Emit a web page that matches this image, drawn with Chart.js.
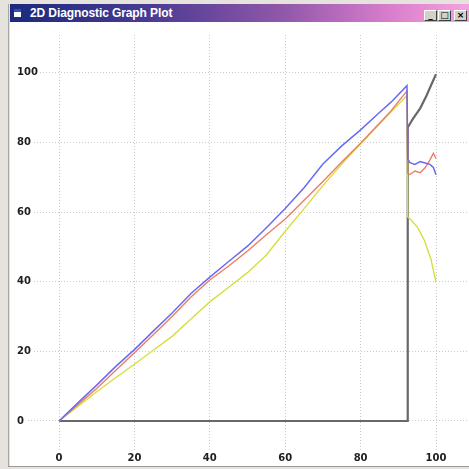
<!DOCTYPE html>
<html>
<head>
<meta charset="utf-8">
<script src="https://cdn.jsdelivr.net/npm/chart.js@4"></script>
<style>
  html, body { margin: 0; padding: 0; }
  body { width: 469px; height: 469px; background: #e6e3de; position: relative; overflow: hidden; }
  #frameLeft { position: absolute; left: 8px; top: 4px; width: 1px; height: 463px; background: #a8a6a2; }
  #titlebar {
    position: absolute; left: 10px; top: 4px; width: 459px; height: 18px;
    background: linear-gradient(to right, #1b2a7c 0%, #4a3a92 30%, #9258aa 60%, #d77ccc 82%, #f7a2df 100%);
  }
  #icon { position: absolute; left: 3px; top: 4px; width: 9px; height: 10px; background: #fff; border: 1px solid #203070; box-sizing: border-box; }
  #icon::before { content: ""; position: absolute; left: 0; top: 0; width: 7px; height: 3px; background: #3050c0; }
  #title {
    position: absolute; left: 20px; top: 2px; color: #fff;
    font: bold 12px "Liberation Sans", sans-serif; white-space: nowrap; letter-spacing: -0.1px;
  }
  .btn {
    position: absolute; top: 6px; width: 13px; height: 11px; background: #d4d0c8;
    border: 1px solid; border-color: #fff #404040 #404040 #fff; box-sizing: border-box;
    font: bold 9px "DejaVu Sans", sans-serif; color: #000; text-align: center; line-height: 9px;
  }
  #plot { position: absolute; left: 10px; top: 22px; width: 459px; height: 444px; background: #fff; }
  #frameBottom { position: absolute; left: 8px; top: 466px; width: 461px; height: 1px; background: #9a9894; }
</style>
</head>
<body>
<div id="frameLeft"></div>
<div id="titlebar">
  <div id="icon"></div>
  <div id="title">2D Diagnostic Graph Plot</div>
  <div class="btn" style="left:414px">_</div>
  <div class="btn" style="left:428px">□</div>
  <div class="btn" style="left:444px">×</div>
</div>
<div id="plot"><canvas id="c" width="459" height="444"></canvas></div>
<div id="frameBottom"></div>
<script>
// Axis tick values
const xTickValues = [0, 20, 40, 60, 80, 100];
const yTickValues = [0, 20, 40, 60, 80, 100];

// Trace 1 (blue)
const blueX = [0, 5, 10, 15, 20, 25, 30, 35, 40, 45, 50, 55, 60, 65, 70, 75, 80, 85, 88, 92.3,
               92.5, 93.1, 94.4, 95.8, 97.1, 98.4, 99.3, 100];
const blueY = [0, 5.2, 10.3, 15.6, 20.5, 25.8, 31.0, 36.6, 41.3, 45.8, 50.2, 55.5, 61.0, 67.0, 73.8, 79.0, 83.6, 88.6, 91.5, 96.3,
               75.2, 74.2, 73.7, 74.5, 74.1, 73.7, 72.8, 70.7];

// Trace 2 (red)
const redX = [0, 5, 10, 15, 20, 25, 30, 35, 40, 45, 50, 55, 60, 65, 70, 75, 80, 85, 88, 92.3,
              92.5, 93.1, 94.4, 95.8, 97.1, 98.4, 99.3, 100];
const redY = [0, 4.7, 9.3, 14.5, 19.6, 24.8, 30.0, 35.6, 40.5, 44.5, 48.8, 53.5, 58.0, 63.4, 68.8, 74.4, 79.8, 85.5, 89.0, 94.8,
              71.2, 70.8, 71.8, 71.3, 72.7, 75.0, 76.9, 75.4];

// Trace 3 (yellow)
const yellowX = [0, 5, 10, 15, 20, 25, 30, 35, 40, 45, 50, 55, 60, 65, 70, 75, 80, 85, 88, 92.3,
                 92.5, 93.1, 95.1, 96.9, 98.7, 100];
const yellowY = [0, 4.2, 8.4, 12.4, 16.3, 20.3, 24.3, 29.3, 34.2, 38.4, 42.6, 47.7, 54.5, 61.0, 67.6, 73.8, 79.6, 85.3, 88.7, 93.5,
                 58.6, 58.1, 55.6, 51.9, 46.3, 39.8];

// Trace 4 (gray)
const grayX = [0, 92.5, 92.5, 93.2, 94.0, 95.8, 97.5, 98.8, 100];
const grayY = [0, 0, 84.3, 85.6, 87.0, 89.8, 93.5, 96.7, 99.6];

const toPoints = (xs, ys) => xs.map((x, i) => ({ x: x, y: ys[i] }));

const traces = [
  { label: 'Trace 1', xs: blueX, ys: blueY, color: '#6a6af2', width: 1.5, order: 1 },
  { label: 'Trace 2', xs: redX, ys: redY, color: '#ee7c64', width: 1.4, order: 2 },
  { label: 'Trace 3', xs: yellowX, ys: yellowY, color: '#d6de40', width: 1.4, order: 3 },
  { label: 'Trace 4', xs: grayX, ys: grayY, color: '#686868', width: 2.2, order: 4 }
];

const tickFont = { family: 'DejaVu Sans', size: 10, weight: 'bold' };
const gridStyle = { color: '#cacaca', lineWidth: 1, drawTicks: false };

new Chart(document.getElementById('c'), {
  type: 'scatter',
  data: {
    datasets: traces.map(t => ({
      label: t.label,
      data: toPoints(t.xs, t.ys),
      showLine: true,
      borderColor: t.color,
      borderWidth: t.width,
      pointRadius: 0,
      tension: 0,
      order: t.order
    }))
  },
  options: {
    responsive: false,
    animation: false,
    layout: { padding: 0 },
    plugins: { legend: { display: false }, tooltip: { enabled: false } },
    scales: {
      x: {
        type: 'linear',
        min: -13.0,
        max: 108.75,
        afterBuildTicks: s => { s.ticks = xTickValues.map(v => ({ value: v })); },
        afterFit: s => { s.height = 14; },
        grid: gridStyle,
        border: { display: false, dash: [1, 2] },
        ticks: { font: tickFont, color: '#1e1e1e', padding: 0, maxRotation: 0, autoSkip: false }
      },
      y: {
        type: 'linear',
        min: -8.91,
        max: 110.86,
        afterBuildTicks: s => { s.ticks = yTickValues.map(v => ({ value: v })); },
        afterFit: s => { s.width = 0; },
        grid: gridStyle,
        border: { display: false, dash: [1, 2] },
        ticks: {
          font: tickFont, color: '#1e1e1e', mirror: true, padding: 7, autoSkip: false,
          showLabelBackdrop: true, backdropColor: '#ffffff',
          backdropPadding: { left: 7, right: 2, top: 1, bottom: 1 }
        }
      }
    }
  }
});
</script>
</body>
</html>
